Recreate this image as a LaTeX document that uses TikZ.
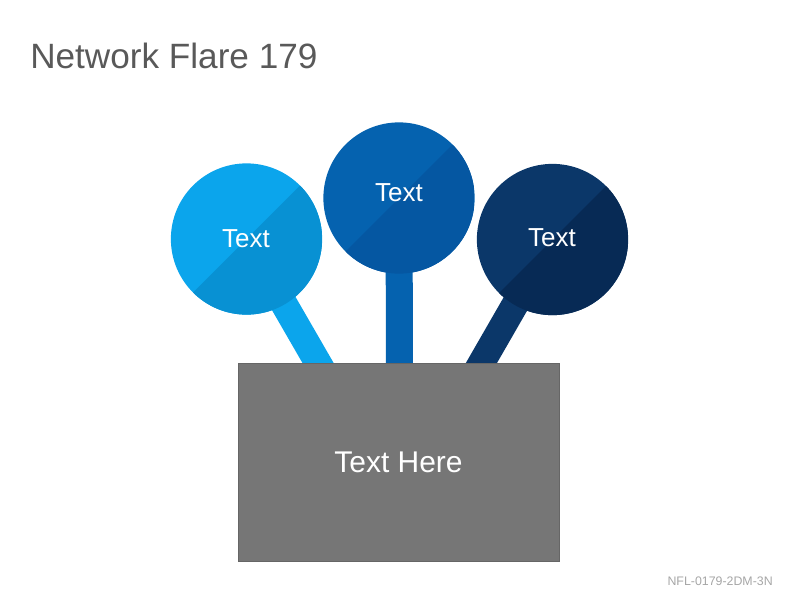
\documentclass[tikz,border=0pt]{standalone}
\usepackage{fontspec}
\setmainfont{Liberation Sans}
\usetikzlibrary{backgrounds}

\definecolor{skyup}{HTML}{0BA5EC}
\definecolor{skylow}{HTML}{0891D3}
\definecolor{midup}{HTML}{0562AF}
\definecolor{midlow}{HTML}{0557A2}
\definecolor{navyup}{HTML}{0B3769}
\definecolor{navylow}{HTML}{072A55}
\definecolor{boxgray}{HTML}{767676}
\definecolor{boxedge}{HTML}{666666}
\definecolor{titlegray}{HTML}{595959}
\definecolor{footgray}{HTML}{A6A6A6}

\tikzset{
  disc/.style 2 args={circle, minimum size=3.78cm, inner sep=0pt, fill=#1,
    path picture={\fill[#2] (path picture bounding box.north east) --
      (path picture bounding box.south east) --
      (path picture bounding box.south west) -- cycle;}},
  stalk/.style={draw=#1, line width=0.675cm},
  disclabel/.style={text=white, font=\fontsize{18.5}{22}\selectfont},
}

\begin{document}
\begin{tikzpicture}[x=0.025cm, y=-0.025cm]
                \useasboundingbox (0,0) rectangle (800,600);
                
                % Drawing title
                \node [anchor=base west, text=titlegray, font=\fontsize{25}{30}\selectfont, inner sep=0pt] (title) at (30,68) {Network Flare 179};%
                
                % Marking circle A
                \node [disc={skyup}{skylow}] (ca) at (246.5,239) {};%
                \node [disclabel] (ta) at (246,239) {Text};%
                
                % Marking circle B
                \node [disc={midup}{midlow}] (cb) at (399,198) {};%
                \node [disclabel] (tb) at (399,193) {Text};%
                
                % Marking circle C
                \node [disc={navyup}{navylow}] (cc) at (552.5,239.5) {};%
                \node [disclabel] (tc) at (552,238) {Text};%
                
                % Drawing box
                \node [draw=boxedge, line width=0.6pt, fill=boxgray, minimum width=8.02cm, minimum height=4.95cm, inner sep=0pt, text=white, font=\fontsize{21.3}{26}\selectfont] (box) at (398.5,462) {Text Here};%
                
                % Drawing stems under the box
                \coordinate (fa) at (325,375);%
                \coordinate (fb) at (399.5,375);%
                \coordinate (fc) at (474.5,375);%
                \begin{pgfonlayer}{background}
                \draw [stalk=skyup] (ca.center) -- (fa);%
                \draw [stalk=midup] (cb.center) -- (fb);%
                \draw [stalk=navyup] (cc.center) -- (fc);%
                \end{pgfonlayer}
                
                % Drawing footer
                \node [anchor=base east, text=footgray, font=\fontsize{8.8}{10}\selectfont, inner sep=0pt] (foot) at (773,585) {NFL-0179-2DM-3N};%
\end{tikzpicture}
\end{document}
